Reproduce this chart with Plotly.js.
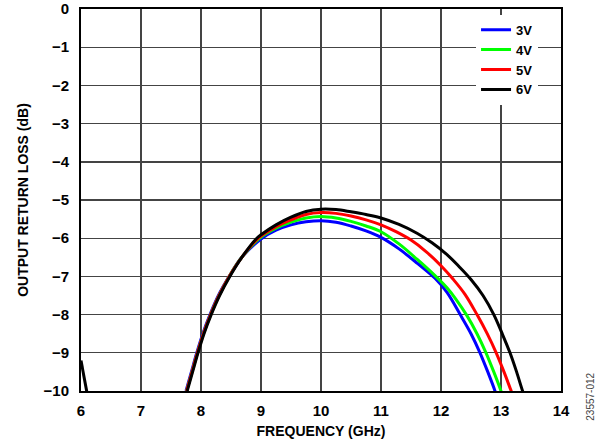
<!DOCTYPE html>
<html>
<head>
<meta charset="utf-8">
<script src="https://cdn.plot.ly/plotly-3.0.1.min.js"></script>
<style>html,body{margin:0;padding:0;background:#fff;}#chart{width:597px;height:446px;}</style>
</head>
<body>
<div id="chart"></div>
<script>
// Frequency (GHz) and output return loss (dB) per supply voltage
const freq3V = [7.75,7.84,7.93,8.03,8.15,8.29,8.47,8.68,9.0,9.25,9.5,9.75,10.0,10.25,10.5,10.75,11.0,11.3,11.6,11.9,12.1,12.32,12.5,12.65,12.78,12.9,12.92];
const rl3V   = [-10,-9.5,-9,-8.5,-8,-7.5,-7,-6.5,-6.02,-5.79,-5.65,-5.57,-5.54,-5.58,-5.68,-5.81,-5.98,-6.28,-6.65,-7.05,-7.42,-8,-8.5,-9,-9.5,-10,-10.1];

const freq4V = [7.76,7.85,7.94,8.04,8.16,8.3,8.47,8.68,8.98,9.25,9.5,9.75,10.0,10.25,10.5,10.75,11.0,11.3,11.6,11.9,12.1,12.25,12.43,12.6,12.75,12.88,13.0,13.02];
const rl4V   = [-10,-9.5,-9,-8.5,-8,-7.5,-7,-6.5,-6.0,-5.74,-5.58,-5.47,-5.43,-5.47,-5.56,-5.68,-5.83,-6.15,-6.55,-6.98,-7.3,-7.6,-8.02,-8.5,-9,-9.5,-10,-10.1];

const freq5V = [7.76,7.85,7.94,8.04,8.16,8.3,8.47,8.68,8.97,9.25,9.5,9.75,10.0,10.25,10.5,10.75,11.0,11.25,11.5,11.75,12.0,12.2,12.4,12.6,12.77,12.92,13.05,13.17,13.2];
const rl5V   = [-10,-9.5,-9,-8.5,-8,-7.5,-7,-6.5,-5.98,-5.7,-5.52,-5.38,-5.33,-5.35,-5.42,-5.52,-5.65,-5.83,-6.05,-6.35,-6.72,-7.07,-7.47,-8,-8.5,-9,-9.5,-10,-10.12];

const freq6V = [6.0,6.1,null,7.77,7.86,7.95,8.05,8.17,8.31,8.48,8.68,8.93,9.0,9.25,9.5,9.75,10.0,10.25,10.5,10.75,11.0,11.3,11.6,11.85,12.1,12.3,12.5,12.7,12.88,13.02,13.15,13.26,13.36,13.39];
const rl6V   = [-9.2,-10.05,null,-10,-9.5,-9,-8.5,-8,-7.5,-7,-6.5,-6,-5.91,-5.65,-5.45,-5.3,-5.24,-5.25,-5.31,-5.38,-5.47,-5.64,-5.87,-6.12,-6.43,-6.74,-7.08,-7.5,-8,-8.5,-9,-9.5,-10,-10.12];

const seriesNames = ['3V','4V','5V','6V'];
const xTicks = [6,7,8,9,10,11,12,13,14];
const yTicks = [0,-1,-2,-3,-4,-5,-6,-7,-8,-9,-10];

const colors = ['#0000ff','#00ff00','#ff0000','#000000'];
const xs = [freq3V,freq4V,freq5V,freq6V];
const ys = [rl3V,rl4V,rl5V,rl6V];

const FONT = 'Liberation Sans, Arial, sans-serif';
const traces = seriesNames.map((n,i)=>({
  x: xs[i], y: ys[i], name: n, type: 'scatter', mode: 'lines',
  line: {color: colors[i], width: 3, shape: 'spline', smoothing: 1},
  connectgaps: false
}));

const layout = {
  width: 597, height: 446,
  margin: {l: 81, r: 36, t: 9, b: 55},
  paper_bgcolor: '#fff', plot_bgcolor: '#fff',
  showlegend: true,
  legend: {
    x: 0.823, y: 0.985, xanchor: 'left', yanchor: 'top',
    bgcolor: '#fff', borderwidth: 0,
    font: {family: FONT, size: 13, color: '#000', weight: 'bold'},
    tracegroupgap: 0
  },
  xaxis: {
    range: [6, 14], tickvals: xTicks, ticktext: xTicks.map(String),
    showgrid: true, gridcolor: '#444', gridwidth: 1.4,
    zeroline: false, showline: true, linecolor: '#000', linewidth: 2, mirror: true,
    ticks: '', ticklabelstandoff: 5,
    tickfont: {family: FONT, size: 15, color: '#000', weight: 'bold'},
    title: {text: 'FREQUENCY (GHz)', font: {family: FONT, size: 14, color: '#000', weight: 'bold'}, standoff: 8}
  },
  yaxis: {
    range: [-10, 0], tickvals: yTicks,
    showgrid: true, gridcolor: '#444', gridwidth: 1.4,
    zeroline: false, showline: true, linecolor: '#000', linewidth: 2, mirror: true,
    ticks: '', ticklabelstandoff: 7,
    tickfont: {family: FONT, size: 15, color: '#000', weight: 'bold'},
    title: {text: 'OUTPUT RETURN LOSS (dB)', font: {family: FONT, size: 14, color: '#000', weight: 'bold'}, standoff: 12}
  },
  annotations: [{
    text: '23557-012', xref: 'paper', yref: 'paper', x: 1.0625, y: -0.015,
    showarrow: false, textangle: -90, xanchor: 'center', yanchor: 'middle',
    font: {family: FONT, size: 10, color: '#444'}
  }]
};

Plotly.newPlot('chart', traces, layout, {displayModeBar: false, staticPlot: true});
</script>
</body>
</html>
